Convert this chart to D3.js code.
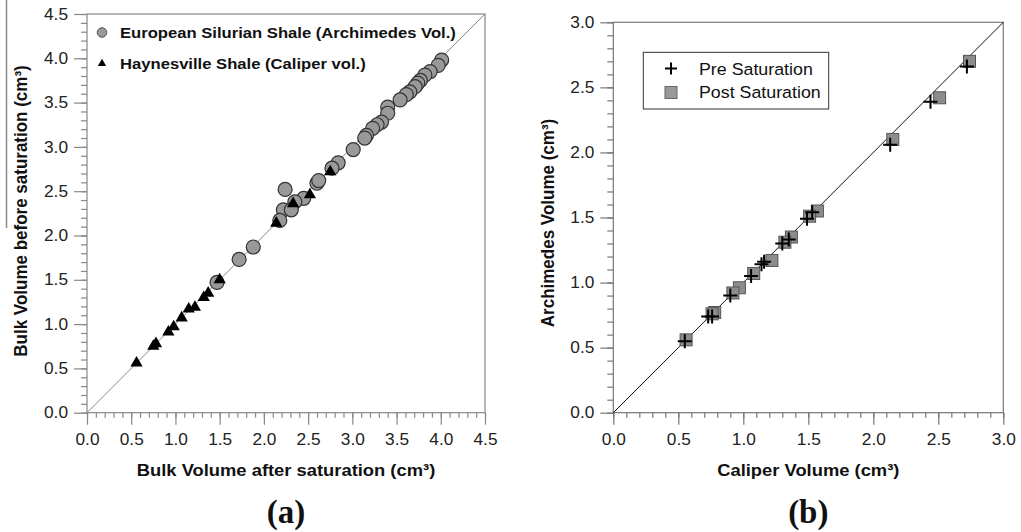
<!DOCTYPE html>
<html><head><meta charset="utf-8">
<script src="https://cdn.jsdelivr.net/npm/d3@7"></script>
<style>body{margin:0;background:#fff}svg{display:block}</style>
</head><body>
<svg id="c" width="1021" height="532"></svg>
<script>
// Panel (a): European Silurian Shale (circles) and Haynesville Shale (triangles)
const silurianAfter  = [4.01,3.97,3.88,3.82,3.77,3.74,3.71,3.65,3.61,3.54,3.40,3.40,3.33,3.28,3.23,3.16,3.14,3.01,2.84,2.77,2.60,2.62,2.24,2.45,2.35,2.22,2.31,2.18,1.88,1.72,1.47];
const silurianBefore = [3.98,3.92,3.85,3.81,3.75,3.72,3.68,3.62,3.59,3.53,3.45,3.38,3.28,3.25,3.21,3.13,3.10,2.97,2.82,2.76,2.59,2.62,2.52,2.42,2.38,2.29,2.29,2.17,1.87,1.73,1.47];
const haynesAfter  = [2.52,2.33,2.14,2.75,1.50,1.37,1.32,1.22,1.15,1.07,0.98,0.92,0.78,0.75,0.56];
const haynesBefore = [2.46,2.36,2.14,2.72,1.50,1.35,1.30,1.19,1.17,1.07,0.97,0.91,0.78,0.75,0.56];
// Panel (b): Caliper vs Archimedes
const preCaliper  = [2.72,2.44,2.13,1.53,1.49,1.35,1.30,1.16,1.14,1.06,0.90,0.76,0.73,0.55];
const preArch     = [2.66,2.39,2.06,1.54,1.49,1.33,1.30,1.16,1.14,1.05,0.90,0.74,0.74,0.55];
const postCaliper = [2.74,2.51,2.15,1.57,1.51,1.37,1.32,1.22,1.08,0.97,0.92,0.78,0.76,0.56];
const postArch    = [2.70,2.42,2.10,1.55,1.51,1.35,1.31,1.17,1.07,0.96,0.92,0.77,0.76,0.56];
const ticksA = [0,0.5,1,1.5,2,2.5,3,3.5,4,4.5];
const ticksB = [0,0.5,1,1.5,2,2.5,3];
const legendA = ["European Silurian Shale (Archimedes Vol.)","Haynesville Shale (Caliper vol.)"];
const legendB = ["Pre Saturation","Post Saturation"];

const svg = d3.select("#c");
const FONT = "'Liberation Sans', Arial, sans-serif";
const SX = 1.08; // horizontal text stretch seen in the reference

// stray grey border line at the far left of the reference image
svg.append("line").attr("x1",6.5).attr("y1",0).attr("x2",6.5).attr("y2",228).attr("stroke","#8a8a8a").attr("stroke-width",1.5);

function panel(opt){
  const g = svg.append("g");
  const x = d3.scaleLinear().domain([0,opt.max]).range([opt.x0,opt.x1]);
  const y = d3.scaleLinear().domain([0,opt.max]).range([opt.y0,opt.y1]);
  const minor = d3.range(0, opt.max+1e-9, 0.1);
  const axCol = opt.axCol;
  g.append("rect").attr("x",opt.x0).attr("y",opt.y1).attr("width",opt.x1-opt.x0).attr("height",opt.y0-opt.y1)
    .attr("fill","none").attr("stroke",axCol).attr("stroke-width",1.2);
  const xa = g.append("g").attr("transform",`translate(0,${opt.y0})`)
    .call(d3.axisBottom(x).tickValues(minor).tickSize(5).tickFormat(""));
  xa.select(".domain").remove(); xa.selectAll("line").attr("stroke",axCol).attr("stroke-width",1.2);
  const xb = g.append("g").attr("transform",`translate(0,${opt.y0})`)
    .call(d3.axisBottom(x).tickValues(opt.ticks).tickSize(12).tickPadding(9).tickFormat(d3.format(".1f")));
  xb.select(".domain").remove(); xb.selectAll("line").attr("stroke",axCol).attr("stroke-width",1.2);
  xb.selectAll("text").attr("font-family",FONT).attr("font-size",16).attr("fill","#222").attr("transform",`scale(${SX},1)`);
  const ya = g.append("g").attr("transform",`translate(${opt.x0},0)`)
    .call(d3.axisLeft(y).tickValues(minor).tickSize(6).tickFormat(""));
  ya.select(".domain").remove(); ya.selectAll("line").attr("stroke",axCol).attr("stroke-width",1.2);
  const yb = g.append("g").attr("transform",`translate(${opt.x0},0)`)
    .call(d3.axisLeft(y).tickValues(opt.ticks).tickSize(13).tickPadding(6).tickFormat(d3.format(".1f")));
  yb.select(".domain").remove(); yb.selectAll("line").attr("stroke",axCol).attr("stroke-width",1.2);
  yb.selectAll("text").attr("font-family",FONT).attr("font-size",16).attr("fill","#222")
    .attr("x",-19/SX).attr("transform",`scale(${SX},1)`);
  g.append("line").attr("x1",x(0)).attr("y1",y(0)).attr("x2",x(opt.max)).attr("y2",y(opt.max))
    .attr("stroke",opt.diagCol).attr("stroke-width",1);
  g.append("text").attr("transform",`translate(${(opt.x0+opt.x1)/2},${opt.y0+63}) scale(${SX},1)`).attr("text-anchor","middle")
    .attr("font-family",FONT).attr("font-weight","bold").attr("font-size",17).attr("fill","#111").text(opt.xTitle);
  g.append("text").attr("transform",`translate(${opt.yTitleX},${opt.yTitleY}) rotate(-90) scale(1,${SX})`).attr("text-anchor","middle")
    .attr("font-family",FONT).attr("font-weight","bold").attr("font-size",17).attr("fill","#111").text(opt.yTitle);
  g.append("text").attr("x",(opt.x0+opt.x1)/2).attr("y",523).attr("text-anchor","middle")
    .attr("font-family","'Liberation Serif', 'Times New Roman', serif").attr("font-weight","bold").attr("font-size",33).attr("fill","#111").text(opt.label);
  return {g,x,y};
}

// Panel a
const A = panel({x0:87,x1:485,y0:412.7,y1:14,max:4.5,ticks:ticksA,axCol:"#888",diagCol:"#888",
  xTitle:"Bulk Volume after saturation (cm³)",yTitle:"Bulk Volume before saturation (cm³)",yTitleX:27,yTitleY:211,label:"(a)"});
A.g.append("g").selectAll("circle").data(silurianAfter).join("circle")
  .attr("cx",(d)=>A.x(d)).attr("cy",(d,i)=>A.y(silurianBefore[i])).attr("r",7)
  .attr("fill","#999").attr("stroke","#333").attr("stroke-width",1.2);
const tri = d3.symbol().type(d3.symbolTriangle).size(65);
A.g.append("g").selectAll("path").data(haynesAfter).join("path")
  .attr("d",tri).attr("transform",(d,i)=>`translate(${A.x(d)},${A.y(haynesBefore[i])})`).attr("fill","#000");
// legend a
A.g.append("circle").attr("cx",102).attr("cy",32.5).attr("r",4.8).attr("fill","#999").attr("stroke","#555").attr("stroke-width",1);
A.g.append("path").attr("d",d3.symbol().type(d3.symbolTriangle).size(30)).attr("transform","translate(102,63.5)").attr("fill","#000");
A.g.selectAll("text.leg").data(legendA).join("text").attr("class","leg")
  .attr("transform",(d,i)=>`translate(120,${32+i*31+6}) scale(${SX},1)`).attr("font-family",FONT).attr("font-weight","bold").attr("font-size",15.4).attr("fill","#111").text(d=>d);

// Panel b
const B = panel({x0:613.3,x1:1003.3,y0:412.7,y1:22.3,max:3,ticks:ticksB,axCol:"#777",diagCol:"#111",
  xTitle:"Caliper Volume (cm³)",yTitle:"Archimedes Volume (cm³)",yTitleX:554,yTitleY:223,label:"(b)"});
B.g.append("g").selectAll("rect").data(postCaliper).join("rect")
  .attr("x",d=>B.x(d)-6).attr("y",(d,i)=>B.y(postArch[i])-6).attr("width",12).attr("height",12)
  .attr("fill","#8c8c8c").attr("stroke","#555").attr("stroke-width",1);
B.g.append("g").selectAll("path").data(preCaliper).join("path")
  .attr("d","M-7,0H7M0,-7V7").attr("transform",(d,i)=>`translate(${B.x(d)},${B.y(preArch[i])})`)
  .attr("stroke","#000").attr("stroke-width",2).attr("fill","none");
// legend b
B.g.append("rect").attr("x",643.3).attr("y",52.3).attr("width",185.4).attr("height",56.7).attr("fill","#fff").attr("stroke","#333").attr("stroke-width",1);
B.g.append("path").attr("d","M-6,0H6M0,-6V6").attr("transform","translate(671,68.5)").attr("stroke","#000").attr("stroke-width",2);
B.g.append("rect").attr("x",665).attr("y",86.5).attr("width",12).attr("height",12).attr("fill","#999").attr("stroke","#666");
B.g.selectAll("text.leg").data(legendB).join("text").attr("class","leg")
  .attr("transform",(d,i)=>`translate(699,${69+i*23+6}) scale(${SX},1)`).attr("font-family",FONT).attr("font-size",16.5).attr("fill","#111").text(d=>d);
</script>
</body></html>
